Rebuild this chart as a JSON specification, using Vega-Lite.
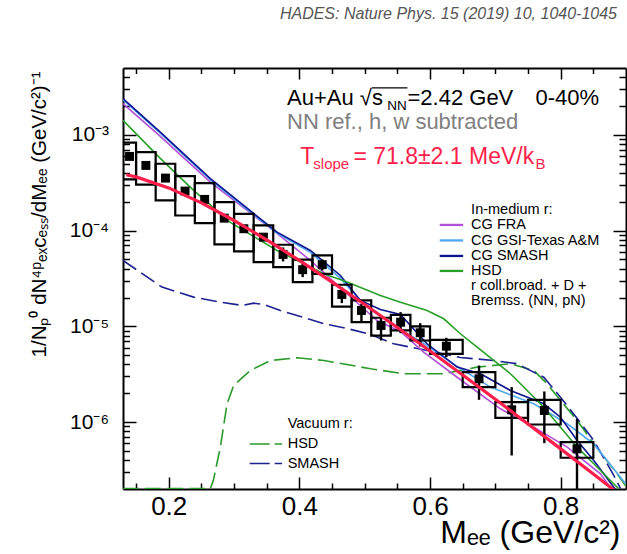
{
  "$schema": "https://vega.github.io/schema/vega-lite/v6.json",
  "width": 503,
  "height": 421,
  "autosize": {"type": "none"},
  "padding": {"left": 123, "top": 68, "right": 1, "bottom": 65},
  "background": "white",
  "title": {"text": "HADES: Nature Phys. 15 (2019) 10, 1040-1045", "anchor": "end", "frame": "group", "orient": "top", "offset": 32, "baseline": "alphabetic", "dx": -9, "font": "Liberation Sans", "fontSize": 16, "fontStyle": "italic", "fontWeight": "normal", "color": "#555555"},
  "config": {"view": {"stroke": null}, "font": "Liberation Sans"},
  "datasets": {
    "points": [
      {"M": 0.14, "y": 5.96e-4, "ylo": 5.7e-4, "yhi": 6.25e-4, "slo": 3.43e-4, "shi": 8.29e-4, "xlo": 0.13, "xhi": 0.15},
      {"M": 0.165, "y": 4.80e-4, "ylo": 4.6e-4, "yhi": 5.0e-4, "slo": 3.02e-4, "shi": 6.61e-4, "xlo": 0.15, "xhi": 0.18},
      {"M": 0.195, "y": 3.54e-4, "ylo": 3.38e-4, "yhi": 3.7e-4, "slo": 2.07e-4, "shi": 5.0e-4, "xlo": 0.18, "xhi": 0.21},
      {"M": 0.225, "y": 2.59e-4, "ylo": 2.47e-4, "yhi": 2.71e-4, "slo": 1.44e-4, "shi": 3.71e-4, "xlo": 0.21, "xhi": 0.24},
      {"M": 0.255, "y": 2.12e-4, "ylo": 2.02e-4, "yhi": 2.22e-4, "slo": 1.20e-4, "shi": 3.13e-4, "xlo": 0.24, "xhi": 0.27},
      {"M": 0.285, "y": 1.35e-4, "ylo": 1.27e-4, "yhi": 1.43e-4, "slo": 7.17e-5, "shi": 1.99e-4, "xlo": 0.27, "xhi": 0.30},
      {"M": 0.315, "y": 1.047e-4, "ylo": 9.8e-5, "yhi": 1.12e-4, "slo": 6.06e-5, "shi": 1.50e-4, "xlo": 0.30, "xhi": 0.33},
      {"M": 0.345, "y": 8.55e-5, "ylo": 7.9e-5, "yhi": 9.2e-5, "slo": 4.69e-5, "shi": 1.133e-4, "xlo": 0.33, "xhi": 0.36},
      {"M": 0.375, "y": 5.64e-5, "ylo": 4.77e-5, "yhi": 6.68e-5, "slo": 4.16e-5, "shi": 7.12e-5, "xlo": 0.36, "xhi": 0.39},
      {"M": 0.405, "y": 3.91e-5, "ylo": 3.27e-5, "yhi": 4.51e-5, "slo": 2.90e-5, "shi": 4.98e-5, "xlo": 0.39, "xhi": 0.42},
      {"M": 0.435, "y": 4.41e-5, "ylo": 3.84e-5, "yhi": 5.0e-5, "slo": 3.54e-5, "shi": 5.51e-5, "xlo": 0.42, "xhi": 0.45},
      {"M": 0.465, "y": 2.155e-5, "ylo": 1.75e-5, "yhi": 2.57e-5, "slo": 1.61e-5, "shi": 2.72e-5, "xlo": 0.45, "xhi": 0.48},
      {"M": 0.495, "y": 1.466e-5, "ylo": 1.133e-5, "yhi": 1.72e-5, "slo": 1.106e-5, "shi": 1.865e-5, "xlo": 0.48, "xhi": 0.51},
      {"M": 0.525, "y": 1.022e-5, "ylo": 7.12e-6, "yhi": 1.248e-5, "slo": 8.0e-6, "shi": 1.23e-5, "xlo": 0.51, "xhi": 0.54},
      {"M": 0.555, "y": 1.106e-5, "ylo": 8.49e-6, "yhi": 1.407e-5, "slo": 9.06e-6, "shi": 1.32e-5, "xlo": 0.54, "xhi": 0.57},
      {"M": 0.585, "y": 8.57e-6, "ylo": 6.17e-6, "yhi": 1.08e-5, "slo": 7.12e-6, "shi": 9.98e-6, "xlo": 0.57, "xhi": 0.60},
      {"M": 0.625, "y": 6.21e-6, "ylo": 4.77e-6, "yhi": 7.6e-6, "slo": 5.17e-6, "shi": 7.24e-6, "xlo": 0.60, "xhi": 0.65},
      {"M": 0.675, "y": 2.835e-6, "ylo": 1.71e-6, "yhi": 3.90e-6, "slo": 2.32e-6, "shi": 3.32e-6, "xlo": 0.65, "xhi": 0.70},
      {"M": 0.725, "y": 1.344e-6, "ylo": 4.48e-7, "yhi": 2.32e-6, "slo": 1.109e-6, "shi": 1.614e-6, "xlo": 0.70, "xhi": 0.75},
      {"M": 0.775, "y": 1.322e-6, "ylo": 6.02e-7, "yhi": 2.09e-6, "slo": 9.44e-7, "shi": 1.71e-6, "xlo": 0.75, "xhi": 0.80},
      {"M": 0.825, "y": 5.26e-7, "ylo": 1.0e-7, "yhi": 1.08e-6, "slo": 4.24e-7, "shi": 6.17e-7, "xlo": 0.80, "xhi": 0.85}
    ],
    "fit": [
      {"M": 0.135, "y": 3.835e-4}, {"M": 0.15, "y": 3.645e-4}, {"M": 0.2, "y": 2.797e-4}, {"M": 0.25, "y": 1.949e-4},
      {"M": 0.3, "y": 1.276e-4}, {"M": 0.35, "y": 8.01e-5}, {"M": 0.4, "y": 4.88e-5}, {"M": 0.45, "y": 2.902e-5},
      {"M": 0.5, "y": 1.694e-5}, {"M": 0.55, "y": 9.74e-6}, {"M": 0.6, "y": 5.53e-6}, {"M": 0.65, "y": 3.11e-6},
      {"M": 0.7, "y": 1.73e-6}, {"M": 0.75, "y": 9.57e-7}, {"M": 0.8, "y": 5.25e-7}, {"M": 0.85, "y": 2.87e-7},
      {"M": 0.88, "y": 1.99e-7}, {"M": 0.9, "y": 1.55e-7}
    ],
    "inmed": [
      {"model": "CG FRA", "M": 0.13, "y": 2.12e-3}, {"model": "CG FRA", "M": 0.1871, "y": 9.64e-4}, {"model": "CG FRA", "M": 0.2637, "y": 3.21e-4},
      {"model": "CG FRA", "M": 0.3658, "y": 9.35e-5}, {"model": "CG FRA", "M": 0.4168, "y": 4.88e-5}, {"model": "CG FRA", "M": 0.473, "y": 2.19e-5},
      {"model": "CG FRA", "M": 0.519, "y": 1.152e-5}, {"model": "CG FRA", "M": 0.5547, "y": 8.85e-6}, {"model": "CG FRA", "M": 0.5903, "y": 5.38e-6},
      {"model": "CG FRA", "M": 0.6415, "y": 2.94e-6}, {"model": "CG FRA", "M": 0.7078, "y": 1.377e-6}, {"model": "CG FRA", "M": 0.7588, "y": 8.85e-7},
      {"model": "CG FRA", "M": 0.81, "y": 5.47e-7}, {"model": "CG FRA", "M": 0.8609, "y": 2.88e-7}, {"model": "CG FRA", "M": 0.8793, "y": 1.93e-7},
      {"model": "CG FRA", "M": 0.9, "y": 1.3e-7},
      {"model": "CG GSI-Texas A&M", "M": 0.13, "y": 2.33e-3}, {"model": "CG GSI-Texas A&M", "M": 0.1871, "y": 1.04e-3}, {"model": "CG GSI-Texas A&M", "M": 0.2637, "y": 3.40e-4},
      {"model": "CG GSI-Texas A&M", "M": 0.3658, "y": 9.4e-5}, {"model": "CG GSI-Texas A&M", "M": 0.4168, "y": 5.92e-5}, {"model": "CG GSI-Texas A&M", "M": 0.4628, "y": 3.17e-5},
      {"model": "CG GSI-Texas A&M", "M": 0.4934, "y": 1.865e-5}, {"model": "CG GSI-Texas A&M", "M": 0.5444, "y": 1.022e-5}, {"model": "CG GSI-Texas A&M", "M": 0.5903, "y": 6.63e-6},
      {"model": "CG GSI-Texas A&M", "M": 0.6415, "y": 3.81e-6}, {"model": "CG GSI-Texas A&M", "M": 0.6925, "y": 2.32e-6}, {"model": "CG GSI-Texas A&M", "M": 0.7588, "y": 1.553e-6},
      {"model": "CG GSI-Texas A&M", "M": 0.81, "y": 9.6e-7}, {"model": "CG GSI-Texas A&M", "M": 0.8507, "y": 5.93e-7}, {"model": "CG GSI-Texas A&M", "M": 0.8992, "y": 2.27e-7},
      {"model": "CG SMASH", "M": 0.13, "y": 2.39e-3}, {"model": "CG SMASH", "M": 0.1871, "y": 1.07e-3}, {"model": "CG SMASH", "M": 0.2637, "y": 3.49e-4},
      {"model": "CG SMASH", "M": 0.3658, "y": 9.64e-5}, {"model": "CG SMASH", "M": 0.4168, "y": 6.21e-5}, {"model": "CG SMASH", "M": 0.4628, "y": 3.40e-5},
      {"model": "CG SMASH", "M": 0.4934, "y": 1.865e-5}, {"model": "CG SMASH", "M": 0.524, "y": 1.5e-5}, {"model": "CG SMASH", "M": 0.5546, "y": 1.331e-5},
      {"model": "CG SMASH", "M": 0.5955, "y": 6.58e-6}, {"model": "CG SMASH", "M": 0.6415, "y": 3.75e-6}, {"model": "CG SMASH", "M": 0.6772, "y": 3.2e-6},
      {"model": "CG SMASH", "M": 0.7231, "y": 2.14e-6}, {"model": "CG SMASH", "M": 0.7741, "y": 1.553e-6}, {"model": "CG SMASH", "M": 0.7997, "y": 1.125e-6},
      {"model": "CG SMASH", "M": 0.8253, "y": 6.42e-7}, {"model": "CG SMASH", "M": 0.8507, "y": 3.97e-7}, {"model": "CG SMASH", "M": 0.8813, "y": 2.09e-7},
      {"model": "CG SMASH", "M": 0.9, "y": 1.4e-7},
      {"model": "HSD", "M": 0.13, "y": 1.417e-3}, {"model": "HSD", "M": 0.1871, "y": 5.68e-4}, {"model": "HSD", "M": 0.2381, "y": 2.63e-4},
      {"model": "HSD", "M": 0.2943, "y": 1.218e-4}, {"model": "HSD", "M": 0.3658, "y": 6.21e-5}, {"model": "HSD", "M": 0.4372, "y": 3.54e-5},
      {"model": "HSD", "M": 0.473, "y": 2.9e-5}, {"model": "HSD", "M": 0.524, "y": 2.1e-5}, {"model": "HSD", "M": 0.5547, "y": 1.79e-5},
      {"model": "HSD", "M": 0.5955, "y": 1.466e-5}, {"model": "HSD", "M": 0.621, "y": 1.2e-5}, {"model": "HSD", "M": 0.6465, "y": 8.37e-6},
      {"model": "HSD", "M": 0.6721, "y": 6.06e-6}, {"model": "HSD", "M": 0.6975, "y": 4.4e-6}, {"model": "HSD", "M": 0.7231, "y": 3.2e-6},
      {"model": "HSD", "M": 0.7487, "y": 2.14e-6}, {"model": "HSD", "M": 0.7741, "y": 1.43e-6}, {"model": "HSD", "M": 0.7997, "y": 8.85e-7},
      {"model": "HSD", "M": 0.8253, "y": 5.47e-7}, {"model": "HSD", "M": 0.8507, "y": 3.67e-7}, {"model": "HSD", "M": 0.8865, "y": 2.09e-7},
      {"model": "HSD", "M": 0.9, "y": 1.6e-7}
    ],
    "vac": [
      {"model": "HSD", "M": 0.13, "y": 2.02e-7}, {"model": "HSD", "M": 0.2637, "y": 2.02e-7}, {"model": "HSD", "M": 0.2683, "y": 2.45e-7},
      {"model": "HSD", "M": 0.279, "y": 5.47e-7}, {"model": "HSD", "M": 0.2893, "y": 1.553e-6}, {"model": "HSD", "M": 0.2994, "y": 2.41e-6},
      {"model": "HSD", "M": 0.3249, "y": 3.46e-6}, {"model": "HSD", "M": 0.3556, "y": 4.4e-6}, {"model": "HSD", "M": 0.3965, "y": 4.7e-6},
      {"model": "HSD", "M": 0.4372, "y": 4.4e-6}, {"model": "HSD", "M": 0.5087, "y": 3.61e-6}, {"model": "HSD", "M": 0.5597, "y": 3.2e-6},
      {"model": "HSD", "M": 0.621, "y": 3.2e-6}, {"model": "HSD", "M": 0.6721, "y": 3.75e-6}, {"model": "HSD", "M": 0.7231, "y": 4.07e-6},
      {"model": "HSD", "M": 0.7588, "y": 3.46e-6}, {"model": "HSD", "M": 0.7793, "y": 2.51e-6}, {"model": "HSD", "M": 0.7997, "y": 1.68e-6},
      {"model": "HSD", "M": 0.8253, "y": 1.04e-6}, {"model": "HSD", "M": 0.8507, "y": 5.93e-7}, {"model": "HSD", "M": 0.8865, "y": 2.88e-7},
      {"model": "HSD", "M": 0.8992, "y": 2.18e-7},
      {"model": "SMASH", "M": 0.13, "y": 4.88e-5}, {"model": "SMASH", "M": 0.1897, "y": 2.57e-5}, {"model": "SMASH", "M": 0.2381, "y": 2.02e-5},
      {"model": "SMASH", "M": 0.279, "y": 1.79e-5}, {"model": "SMASH", "M": 0.3122, "y": 1.654e-5}, {"model": "SMASH", "M": 0.33, "y": 1.748e-5},
      {"model": "SMASH", "M": 0.3453, "y": 1.693e-5}, {"model": "SMASH", "M": 0.3709, "y": 1.466e-5}, {"model": "SMASH", "M": 0.3965, "y": 1.3e-5},
      {"model": "SMASH", "M": 0.4372, "y": 1.065e-5}, {"model": "SMASH", "M": 0.473, "y": 9.51e-6}, {"model": "SMASH", "M": 0.5087, "y": 8.23e-6},
      {"model": "SMASH", "M": 0.5444, "y": 6.58e-6}, {"model": "SMASH", "M": 0.5955, "y": 5.6e-6}, {"model": "SMASH", "M": 0.6465, "y": 4.73e-6},
      {"model": "SMASH", "M": 0.6975, "y": 4.4e-6}, {"model": "SMASH", "M": 0.7334, "y": 4.07e-6}, {"model": "SMASH", "M": 0.7741, "y": 2.94e-6},
      {"model": "SMASH", "M": 0.7997, "y": 1.82e-6}, {"model": "SMASH", "M": 0.8253, "y": 1.09e-6}, {"model": "SMASH", "M": 0.8507, "y": 6.42e-7},
      {"model": "SMASH", "M": 0.8813, "y": 2.77e-7}, {"model": "SMASH", "M": 0.8916, "y": 2.02e-7}
    ]
  },
  "layer": [
    {
      "data": {"name": "vac"},
      "mark": {"type": "line", "clip": true, "strokeWidth": 1.6, "strokeDash": [16, 6]},
      "encoding": {
        "x": {"field": "M", "type": "quantitative", "scale": {"domain": [0.13, 0.9], "nice": false, "zero": false},
              "axis": {"orient": "bottom", "values": [0.15, 0.25, 0.3, 0.35, 0.45, 0.5, 0.55, 0.65, 0.7, 0.75, 0.85], "grid": false, "domain": false, "labels": false, "tickColor": "black", "tickWidth": 1.5, "tickSize": -6, "title": null}},
        "y": {"field": "y", "type": "quantitative", "scale": {"type": "log", "domain": [2e-7, 5e-3], "nice": false},
              "axis": {"orient": "left", "values": [3e-7, 4e-7, 5e-7, 6e-7, 7e-7, 8e-7, 9e-7, 2e-6, 3e-6, 4e-6, 5e-6, 6e-6, 7e-6, 8e-6, 9e-6, 2e-5, 3e-5, 4e-5, 5e-5, 6e-5, 7e-5, 8e-5, 9e-5, 2e-4, 3e-4, 4e-4, 5e-4, 6e-4, 7e-4, 8e-4, 9e-4, 2e-3, 3e-3, 4e-3], "grid": false, "domain": false, "labels": false, "tickColor": "black", "tickWidth": 1.5, "tickSize": -6.5, "title": null}},
        "stroke": {"field": "model", "type": "nominal", "scale": {"domain": ["HSD", "SMASH"], "range": ["#2a9a2a", "#1c2290"]}, "legend": null}
      }
    },
    {
      "data": {"name": "inmed"},
      "mark": {"type": "line", "clip": true, "strokeWidth": 1.6},
      "encoding": {
        "x": {"field": "M", "type": "quantitative", "scale": {"domain": [0.13, 0.9], "nice": false, "zero": false},
              "axis": {"orient": "top", "values": [0.2, 0.4, 0.6, 0.8], "grid": false, "domain": true, "domainColor": "black", "domainWidth": 2, "labels": false, "tickColor": "black", "tickWidth": 1.5, "tickSize": -11, "title": null}},
        "y": {"field": "y", "type": "quantitative", "scale": {"type": "log", "domain": [2e-7, 5e-3], "nice": false},
              "axis": {"orient": "right", "values": [1e-6, 1e-5, 1e-4, 1e-3], "grid": false, "domain": true, "domainColor": "black", "domainWidth": 2, "labels": false, "tickColor": "black", "tickWidth": 1.5, "tickSize": -13, "title": null}},
        "color": {"field": "model", "type": "nominal", "scale": {"domain": ["CG FRA", "CG GSI-Texas A&M", "CG SMASH", "HSD"], "range": ["#b050d8", "#50a8f0", "#0c1490", "#28a028"]}, "legend": null}
      }
    },
    {
      "data": {"name": "points"},
      "mark": {"type": "rect", "filled": false, "stroke": "black", "strokeWidth": 2.2, "clip": true},
      "encoding": {
        "x": {"field": "xlo", "type": "quantitative", "scale": {"domain": [0.13, 0.9], "nice": false, "zero": false},
              "axis": {"orient": "top", "values": [0.15, 0.25, 0.3, 0.35, 0.45, 0.5, 0.55, 0.65, 0.7, 0.75, 0.85], "grid": false, "domain": false, "labels": false, "tickColor": "black", "tickWidth": 1.5, "tickSize": -5.5, "title": null}},
        "x2": {"field": "xhi"},
        "y": {"field": "slo", "type": "quantitative", "scale": {"type": "log", "domain": [2e-7, 5e-3], "nice": false},
              "axis": {"orient": "right", "values": [3e-7, 4e-7, 5e-7, 6e-7, 7e-7, 8e-7, 9e-7, 2e-6, 3e-6, 4e-6, 5e-6, 6e-6, 7e-6, 8e-6, 9e-6, 2e-5, 3e-5, 4e-5, 5e-5, 6e-5, 7e-5, 8e-5, 9e-5, 2e-4, 3e-4, 4e-4, 5e-4, 6e-4, 7e-4, 8e-4, 9e-4, 2e-3, 3e-3, 4e-3], "grid": false, "domain": false, "labels": false, "tickColor": "black", "tickWidth": 1.5, "tickSize": -7, "title": null}},
        "y2": {"field": "shi"}
      }
    },
    {
      "data": {"name": "points"},
      "mark": {"type": "rule", "color": "black", "strokeWidth": 2.4, "clip": true},
      "encoding": {
        "x": {"field": "M", "type": "quantitative", "scale": {"domain": [0.13, 0.9], "nice": false, "zero": false},
              "axis": {"orient": "bottom", "values": [0.2, 0.4, 0.6, 0.8], "grid": false, "domain": false, "labels": false, "tickColor": "black", "tickWidth": 1.5, "tickSize": -12, "title": null}},
        "y": {"field": "ylo", "type": "quantitative", "scale": {"type": "log", "domain": [2e-7, 5e-3], "nice": false},
              "axis": {"orient": "left", "values": [1e-6, 1e-5, 1e-4, 1e-3], "grid": false, "domain": false, "labels": false, "tickColor": "black", "tickWidth": 1.5, "tickSize": -13, "title": null}},
        "y2": {"field": "yhi"}
      }
    },
    {
      "data": {"name": "points"},
      "mark": {"type": "point", "shape": "square", "filled": true, "size": 80, "color": "black", "opacity": 1},
      "encoding": {
        "x": {"field": "M", "type": "quantitative", "scale": {"domain": [0.13, 0.9], "nice": false, "zero": false}, "axis": null},
        "y": {"field": "y", "type": "quantitative", "scale": {"type": "log", "domain": [2e-7, 5e-3], "nice": false}, "axis": null}
      }
    },
    {
      "data": {"name": "fit"},
      "mark": {"type": "line", "clip": true, "strokeWidth": 3.2, "color": "#ff1f4b"},
      "encoding": {
        "x": {"field": "M", "type": "quantitative", "scale": {"domain": [0.13, 0.9], "nice": false, "zero": false},
              "axis": {"orient": "bottom", "values": [0.2, 0.4, 0.6, 0.8], "format": ".1f", "grid": false, "domain": true, "domainColor": "black", "domainWidth": 2, "ticks": false, "labelFont": "Liberation Sans", "labelFontSize": 26, "labelColor": "black", "labelPadding": 4.5, "labelFlush": false, "labelOverlap": false,
                       "title": "Mₑₑ (GeV/c²)", "titleFont": "Liberation Sans", "titleFontSize": 32, "titleFontWeight": "normal", "titleColor": "black", "titleX": 497, "titleY": 53, "titleAlign": "right", "titleBaseline": "alphabetic", "titleAnchor": "end"}},
        "y": {"field": "y", "type": "quantitative", "scale": {"type": "log", "domain": [2e-7, 5e-3], "nice": false},
              "axis": {"orient": "left", "values": [1e-6, 1e-5, 1e-4, 1e-3], "labelExpr": "datum.value < 5e-6 ? '10⁻⁶' : datum.value < 5e-5 ? '10⁻⁵' : datum.value < 5e-4 ? '10⁻⁴' : '10⁻³'", "grid": false, "domain": true, "domainColor": "black", "domainWidth": 2, "ticks": false, "labelFont": "Liberation Sans", "labelFontSize": 21, "labelColor": "black", "labelPadding": 14.4, "labelOverlap": false, "labelFlush": false,
                       "title": "1/Nₚ⁰ dN⁴ᵖₑₓcₑₛₛ/dMₑₑ (GeV/c²)⁻¹", "titleFont": "Liberation Sans", "titleFontSize": 20.5, "titleFontWeight": "normal", "titleColor": "black", "titleAngle": 270, "titleX": -78, "titleY": 146, "titleAlign": "center", "titleBaseline": "alphabetic"}}
      }
    },
    {
      "data": {"values": [{}]},
      "mark": {"type": "text", "text": "Au+Au √s", "align": "left", "baseline": "alphabetic", "font": "Liberation Sans", "fontSize": 22, "color": "black"},
      "encoding": {
        "x": {"datum": 0.3811, "type": "quantitative", "scale": {"domain": [0.13, 0.9], "nice": false, "zero": false}, "axis": null},
        "y": {"datum": 2.033e-3, "type": "quantitative", "scale": {"type": "log", "domain": [2e-7, 5e-3], "nice": false}, "axis": null}
      }
    },
    {
      "data": {"values": [{}]},
      "mark": {"type": "text", "text": "NN", "align": "left", "baseline": "alphabetic", "font": "Liberation Sans", "fontSize": 13.5, "color": "black"},
      "encoding": {
        "x": {"datum": 0.5347, "type": "quantitative", "scale": {"domain": [0.13, 0.9], "nice": false, "zero": false}, "axis": null},
        "y": {"datum": 1.803e-3, "type": "quantitative", "scale": {"type": "log", "domain": [2e-7, 5e-3], "nice": false}, "axis": null}
      }
    },
    {
      "data": {"values": [{}]},
      "mark": {"type": "rule", "color": "black", "strokeWidth": 1.3},
      "encoding": {
        "x": {"datum": 0.511, "type": "quantitative", "scale": {"domain": [0.13, 0.9], "nice": false, "zero": false}, "axis": null},
        "x2": {"datum": 0.5654},
        "y": {"datum": 3.098e-3, "type": "quantitative", "scale": {"type": "log", "domain": [2e-7, 5e-3], "nice": false}, "axis": null}
      }
    },
    {
      "data": {"values": [{}]},
      "mark": {"type": "text", "text": "=2.42 GeV", "align": "left", "baseline": "alphabetic", "font": "Liberation Sans", "fontSize": 22, "color": "black"},
      "encoding": {
        "x": {"datum": 0.5655, "type": "quantitative", "scale": {"domain": [0.13, 0.9], "nice": false, "zero": false}, "axis": null},
        "y": {"datum": 2.033e-3, "type": "quantitative", "scale": {"type": "log", "domain": [2e-7, 5e-3], "nice": false}, "axis": null}
      }
    },
    {
      "data": {"values": [{}]},
      "mark": {"type": "text", "text": "0-40%", "align": "left", "baseline": "alphabetic", "font": "Liberation Sans", "fontSize": 22, "color": "black"},
      "encoding": {
        "x": {"datum": 0.7614, "type": "quantitative", "scale": {"domain": [0.13, 0.9], "nice": false, "zero": false}, "axis": null},
        "y": {"datum": 2.033e-3, "type": "quantitative", "scale": {"type": "log", "domain": [2e-7, 5e-3], "nice": false}, "axis": null}
      }
    },
    {
      "data": {"values": [{}]},
      "mark": {"type": "text", "text": "NN ref., h, w subtracted", "align": "left", "baseline": "alphabetic", "font": "Liberation Sans", "fontSize": 22, "color": "#808080"},
      "encoding": {
        "x": {"datum": 0.3811, "type": "quantitative", "scale": {"domain": [0.13, 0.9], "nice": false, "zero": false}, "axis": null},
        "y": {"datum": 1.141e-3, "type": "quantitative", "scale": {"type": "log", "domain": [2e-7, 5e-3], "nice": false}, "axis": null}
      }
    },
    {
      "data": {"values": [{}]},
      "mark": {"type": "text", "text": "T", "align": "left", "baseline": "alphabetic", "font": "Liberation Sans", "fontSize": 23, "color": "#ff1f4b"},
      "encoding": {
        "x": {"datum": 0.4015, "type": "quantitative", "scale": {"domain": [0.13, 0.9], "nice": false, "zero": false}, "axis": null},
        "y": {"datum": 5.0e-4, "type": "quantitative", "scale": {"type": "log", "domain": [2e-7, 5e-3], "nice": false}, "axis": null}
      }
    },
    {
      "data": {"values": [{}]},
      "mark": {"type": "text", "text": "slope", "align": "left", "baseline": "alphabetic", "font": "Liberation Sans", "fontSize": 15, "color": "#ff1f4b"},
      "encoding": {
        "x": {"datum": 0.4214, "type": "quantitative", "scale": {"domain": [0.13, 0.9], "nice": false, "zero": false}, "axis": null},
        "y": {"datum": 4.36e-4, "type": "quantitative", "scale": {"type": "log", "domain": [2e-7, 5e-3], "nice": false}, "axis": null}
      }
    },
    {
      "data": {"values": [{}]},
      "mark": {"type": "text", "text": "= 71.8±2.1 MeV/k", "align": "left", "baseline": "alphabetic", "font": "Liberation Sans", "fontSize": 23, "color": "#ff1f4b"},
      "encoding": {
        "x": {"datum": 0.4827, "type": "quantitative", "scale": {"domain": [0.13, 0.9], "nice": false, "zero": false}, "axis": null},
        "y": {"datum": 5.0e-4, "type": "quantitative", "scale": {"type": "log", "domain": [2e-7, 5e-3], "nice": false}, "axis": null}
      }
    },
    {
      "data": {"values": [{}]},
      "mark": {"type": "text", "text": "B", "align": "left", "baseline": "alphabetic", "font": "Liberation Sans", "fontSize": 15, "color": "#ff1f4b"},
      "encoding": {
        "x": {"datum": 0.7614, "type": "quantitative", "scale": {"domain": [0.13, 0.9], "nice": false, "zero": false}, "axis": null},
        "y": {"datum": 4.36e-4, "type": "quantitative", "scale": {"type": "log", "domain": [2e-7, 5e-3], "nice": false}, "axis": null}
      }
    },
    {
      "data": {"values": [{}]},
      "mark": {"type": "text", "text": "In-medium r:", "align": "left", "baseline": "alphabetic", "font": "Liberation Sans", "fontSize": 14.5, "color": "black"},
      "encoding": {
        "x": {"datum": 0.6629, "type": "quantitative", "scale": {"domain": [0.13, 0.9], "nice": false, "zero": false}, "axis": null},
        "y": {"datum": 1.477e-4, "type": "quantitative", "scale": {"type": "log", "domain": [2e-7, 5e-3], "nice": false}, "axis": null}
      }
    },
    {
      "data": {"values": [{}]},
      "mark": {"type": "rule", "color": "#b050d8", "strokeWidth": 2.3},
      "encoding": {
        "x": {"datum": 0.6148, "type": "quantitative", "scale": {"domain": [0.13, 0.9], "nice": false, "zero": false}, "axis": null},
        "x2": {"datum": 0.6507},
        "y": {"datum": 1.147e-4, "type": "quantitative", "scale": {"type": "log", "domain": [2e-7, 5e-3], "nice": false}, "axis": null}
      }
    },
    {
      "data": {"values": [{}]},
      "mark": {"type": "text", "text": "CG FRA", "align": "left", "baseline": "alphabetic", "font": "Liberation Sans", "fontSize": 14.5, "color": "black"},
      "encoding": {
        "x": {"datum": 0.6629, "type": "quantitative", "scale": {"domain": [0.13, 0.9], "nice": false, "zero": false}, "axis": null},
        "y": {"datum": 1.034e-4, "type": "quantitative", "scale": {"type": "log", "domain": [2e-7, 5e-3], "nice": false}, "axis": null}
      }
    },
    {
      "data": {"values": [{}]},
      "mark": {"type": "rule", "color": "#50a8f0", "strokeWidth": 2.3},
      "encoding": {
        "x": {"datum": 0.6148, "type": "quantitative", "scale": {"domain": [0.13, 0.9], "nice": false, "zero": false}, "axis": null},
        "x2": {"datum": 0.6507},
        "y": {"datum": 7.90e-5, "type": "quantitative", "scale": {"type": "log", "domain": [2e-7, 5e-3], "nice": false}, "axis": null}
      }
    },
    {
      "data": {"values": [{}]},
      "mark": {"type": "text", "text": "CG GSI-Texas A&M", "align": "left", "baseline": "alphabetic", "font": "Liberation Sans", "fontSize": 14.5, "color": "black"},
      "encoding": {
        "x": {"datum": 0.6629, "type": "quantitative", "scale": {"domain": [0.13, 0.9], "nice": false, "zero": false}, "axis": null},
        "y": {"datum": 7.12e-5, "type": "quantitative", "scale": {"type": "log", "domain": [2e-7, 5e-3], "nice": false}, "axis": null}
      }
    },
    {
      "data": {"values": [{}]},
      "mark": {"type": "rule", "color": "#0c1490", "strokeWidth": 2.3},
      "encoding": {
        "x": {"datum": 0.6148, "type": "quantitative", "scale": {"domain": [0.13, 0.9], "nice": false, "zero": false}, "axis": null},
        "x2": {"datum": 0.6507},
        "y": {"datum": 5.44e-5, "type": "quantitative", "scale": {"type": "log", "domain": [2e-7, 5e-3], "nice": false}, "axis": null}
      }
    },
    {
      "data": {"values": [{}]},
      "mark": {"type": "text", "text": "CG SMASH", "align": "left", "baseline": "alphabetic", "font": "Liberation Sans", "fontSize": 14.5, "color": "black"},
      "encoding": {
        "x": {"datum": 0.6629, "type": "quantitative", "scale": {"domain": [0.13, 0.9], "nice": false, "zero": false}, "axis": null},
        "y": {"datum": 4.905e-5, "type": "quantitative", "scale": {"type": "log", "domain": [2e-7, 5e-3], "nice": false}, "axis": null}
      }
    },
    {
      "data": {"values": [{}]},
      "mark": {"type": "rule", "color": "#28a028", "strokeWidth": 2.3},
      "encoding": {
        "x": {"datum": 0.6148, "type": "quantitative", "scale": {"domain": [0.13, 0.9], "nice": false, "zero": false}, "axis": null},
        "x2": {"datum": 0.6507},
        "y": {"datum": 3.792e-5, "type": "quantitative", "scale": {"type": "log", "domain": [2e-7, 5e-3], "nice": false}, "axis": null}
      }
    },
    {
      "data": {"values": [{}]},
      "mark": {"type": "text", "text": "HSD", "align": "left", "baseline": "alphabetic", "font": "Liberation Sans", "fontSize": 14.5, "color": "black"},
      "encoding": {
        "x": {"datum": 0.6629, "type": "quantitative", "scale": {"domain": [0.13, 0.9], "nice": false, "zero": false}, "axis": null},
        "y": {"datum": 3.42e-5, "type": "quantitative", "scale": {"type": "log", "domain": [2e-7, 5e-3], "nice": false}, "axis": null}
      }
    },
    {
      "data": {"values": [{}]},
      "mark": {"type": "text", "text": "r coll.broad. + D +", "align": "left", "baseline": "alphabetic", "font": "Liberation Sans", "fontSize": 14.5, "color": "black"},
      "encoding": {
        "x": {"datum": 0.6629, "type": "quantitative", "scale": {"domain": [0.13, 0.9], "nice": false, "zero": false}, "axis": null},
        "y": {"datum": 2.372e-5, "type": "quantitative", "scale": {"type": "log", "domain": [2e-7, 5e-3], "nice": false}, "axis": null}
      }
    },
    {
      "data": {"values": [{}]},
      "mark": {"type": "text", "text": "Bremss. (NN, pN)", "align": "left", "baseline": "alphabetic", "font": "Liberation Sans", "fontSize": 14.5, "color": "black"},
      "encoding": {
        "x": {"datum": 0.6629, "type": "quantitative", "scale": {"domain": [0.13, 0.9], "nice": false, "zero": false}, "axis": null},
        "y": {"datum": 1.654e-5, "type": "quantitative", "scale": {"type": "log", "domain": [2e-7, 5e-3], "nice": false}, "axis": null}
      }
    },
    {
      "data": {"values": [{}]},
      "mark": {"type": "text", "text": "Vacuum r:", "align": "left", "baseline": "alphabetic", "font": "Liberation Sans", "fontSize": 14.5, "color": "black"},
      "encoding": {
        "x": {"datum": 0.3821, "type": "quantitative", "scale": {"domain": [0.13, 0.9], "nice": false, "zero": false}, "axis": null},
        "y": {"datum": 8.72e-7, "type": "quantitative", "scale": {"type": "log", "domain": [2e-7, 5e-3], "nice": false}, "axis": null}
      }
    },
    {
      "data": {"values": [{}]},
      "mark": {"type": "rule", "color": "#2a9a2a", "strokeWidth": 1.6, "strokeDash": [20, 5]},
      "encoding": {
        "x": {"datum": 0.3239, "type": "quantitative", "scale": {"domain": [0.13, 0.9], "nice": false, "zero": false}, "axis": null},
        "x2": {"datum": 0.3735},
        "y": {"datum": 5.90e-7, "type": "quantitative", "scale": {"type": "log", "domain": [2e-7, 5e-3], "nice": false}, "axis": null}
      }
    },
    {
      "data": {"values": [{}]},
      "mark": {"type": "text", "text": "HSD", "align": "left", "baseline": "alphabetic", "font": "Liberation Sans", "fontSize": 14.5, "color": "black"},
      "encoding": {
        "x": {"datum": 0.3821, "type": "quantitative", "scale": {"domain": [0.13, 0.9], "nice": false, "zero": false}, "axis": null},
        "y": {"datum": 5.30e-7, "type": "quantitative", "scale": {"type": "log", "domain": [2e-7, 5e-3], "nice": false}, "axis": null}
      }
    },
    {
      "data": {"values": [{}]},
      "mark": {"type": "rule", "color": "#1c2290", "strokeWidth": 1.6, "strokeDash": [20, 5]},
      "encoding": {
        "x": {"datum": 0.3239, "type": "quantitative", "scale": {"domain": [0.13, 0.9], "nice": false, "zero": false}, "axis": null},
        "x2": {"datum": 0.3735},
        "y": {"datum": 3.69e-7, "type": "quantitative", "scale": {"type": "log", "domain": [2e-7, 5e-3], "nice": false}, "axis": null}
      }
    },
    {
      "data": {"values": [{}]},
      "mark": {"type": "text", "text": "SMASH", "align": "left", "baseline": "alphabetic", "font": "Liberation Sans", "fontSize": 14.5, "color": "black"},
      "encoding": {
        "x": {"datum": 0.3821, "type": "quantitative", "scale": {"domain": [0.13, 0.9], "nice": false, "zero": false}, "axis": null},
        "y": {"datum": 3.315e-7, "type": "quantitative", "scale": {"type": "log", "domain": [2e-7, 5e-3], "nice": false}, "axis": null}
      }
    }
  ],
  "resolve": {"axis": {"x": "independent", "y": "independent"}}
}
